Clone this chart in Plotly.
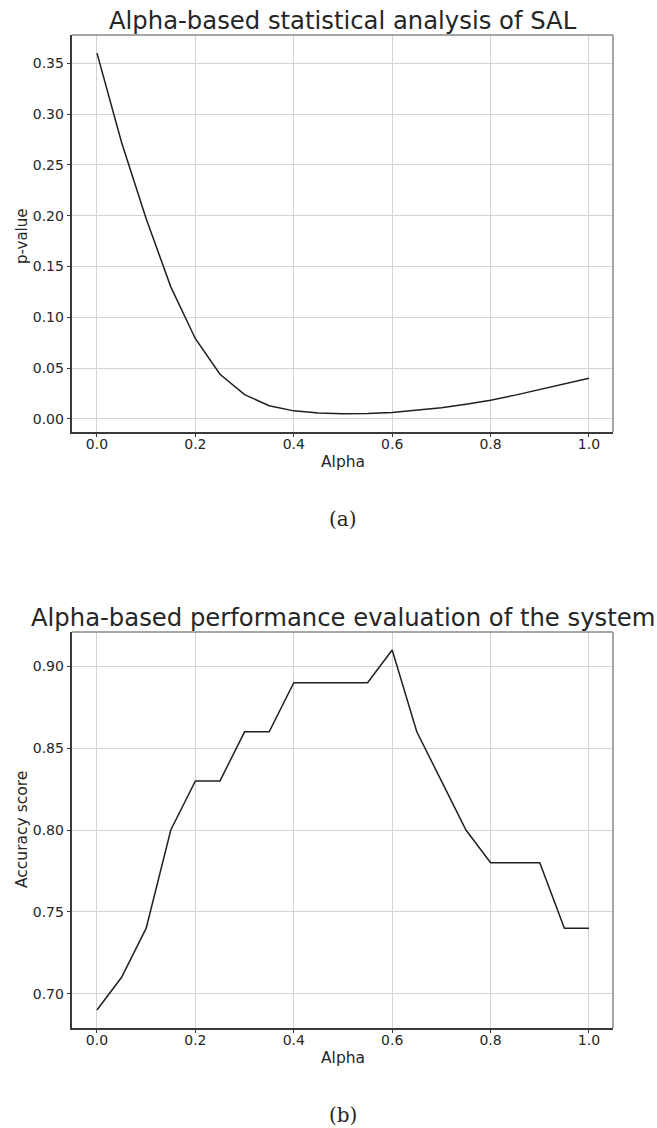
import plotly.graph_objects as go

alpha = [0.0, 0.05, 0.1, 0.15, 0.2, 0.25, 0.3, 0.35, 0.4, 0.45, 0.5,
         0.55, 0.6, 0.65, 0.7, 0.75, 0.8, 0.85, 0.9, 0.95, 1.0]
p_values = [0.360, 0.272, 0.197, 0.130, 0.079, 0.044, 0.024, 0.013, 0.008, 0.0058, 0.0052,
            0.0054, 0.0065, 0.0085, 0.011, 0.0145, 0.0185, 0.0235, 0.029, 0.0345, 0.040]
accuracy = [0.69, 0.71, 0.74, 0.80, 0.83, 0.83, 0.86, 0.86, 0.89, 0.89, 0.89,
            0.89, 0.91, 0.86, 0.83, 0.80, 0.78, 0.78, 0.78, 0.74, 0.74]
x_ticks = [0.0, 0.2, 0.4, 0.6, 0.8, 1.0]
p_ticks = [0.00, 0.05, 0.10, 0.15, 0.20, 0.25, 0.30, 0.35]
acc_ticks = [0.70, 0.75, 0.80, 0.85, 0.90]

W, H = 657, 1128
FONT = "DejaVu Sans"
TXT = "#262626"
GRID = "#d4d4d4"

def px(x):
    return x / W

def py(y):
    return 1 - y / H

xdom = [px(72), px(613)]
dom_a = [py(432), py(35)]
dom_b = [py(1028), py(632)]

fig = go.Figure()
fig.add_trace(go.Scatter(x=alpha, y=p_values, mode="lines",
                         line=dict(color="#1f1f1f", width=1.5),
                         xaxis="x", yaxis="y", showlegend=False))
fig.add_trace(go.Scatter(x=alpha, y=accuracy, mode="lines",
                         line=dict(color="#1f1f1f", width=1.5),
                         xaxis="x2", yaxis="y2", showlegend=False))

xcommon = dict(range=[-0.0508, 1.0488], tickvals=x_ticks, tickformat=".1f",
               showgrid=True, gridcolor=GRID, gridwidth=1, zeroline=False,
               showline=True, linecolor="#3a3a3a", linewidth=1.5,
               ticks="outside", ticklen=3.5, tickcolor="#3a3a3a", tickwidth=1,
               ticklabelstandoff=-5,
               tickfont=dict(family=FONT, size=14, color=TXT), domain=xdom)
ycommon = dict(showgrid=True, gridcolor=GRID, gridwidth=1, zeroline=False,
               showline=True, linecolor="#3a3a3a", linewidth=1.5,
               ticks="outside", ticklen=3.5, tickcolor="#3a3a3a", tickwidth=1,
               tickformat=".2f",
               tickfont=dict(family=FONT, size=14, color=TXT))

fig.update_layout(
    width=W, height=H,
    margin=dict(l=0, r=0, t=0, b=0),
    paper_bgcolor="white", plot_bgcolor="white",
    xaxis=dict(**xcommon, anchor="y"),
    yaxis=dict(**ycommon, range=[-0.0128, 0.3778], tickvals=p_ticks,
               domain=dom_a, anchor="x"),
    xaxis2=dict(**xcommon, anchor="y2"),
    yaxis2=dict(**ycommon, range=[0.679, 0.921], tickvals=acc_ticks,
                domain=dom_b, anchor="x2"),
)

# top/right frame (lighter gray)
for dom in (dom_a, dom_b):
    fig.add_shape(type="line", xref="paper", yref="paper",
                  x0=xdom[0], x1=xdom[1], y0=dom[1], y1=dom[1],
                  line=dict(color="#8a8a8a", width=1.5))
    fig.add_shape(type="line", xref="paper", yref="paper",
                  x0=xdom[1], x1=xdom[1], y0=dom[0], y1=dom[1],
                  line=dict(color="#8a8a8a", width=1.5))

def ann(text, x, y, size, family=FONT, angle=0):
    fig.add_annotation(text=text, xref="paper", yref="paper",
                       x=px(x), y=py(y), xanchor="center", yanchor="middle",
                       showarrow=False, textangle=angle,
                       font=dict(family=family, size=size, color=TXT))

xc = (72 + 613) / 2
ann("Alpha-based statistical analysis of SAL", xc, 21, 24.3)
ann("Alpha-based performance evaluation of the system", xc, 617, 24.3)
ann("Alpha", xc, 462, 15.5)
ann("Alpha", xc, 1058, 15.5)
ann("p-value", 22, 236, 15, angle=-90)
ann("Accuracy score", 22, 830, 15.5, angle=-90)
ann("(a)", xc, 519, 20, family="DejaVu Serif")
ann("(b)", xc, 1115, 20, family="DejaVu Serif")

fig.write_html("out.html", config={"displayModeBar": False},
               post_script="document.body.style.margin='0';document.body.style.overflow='hidden';")
